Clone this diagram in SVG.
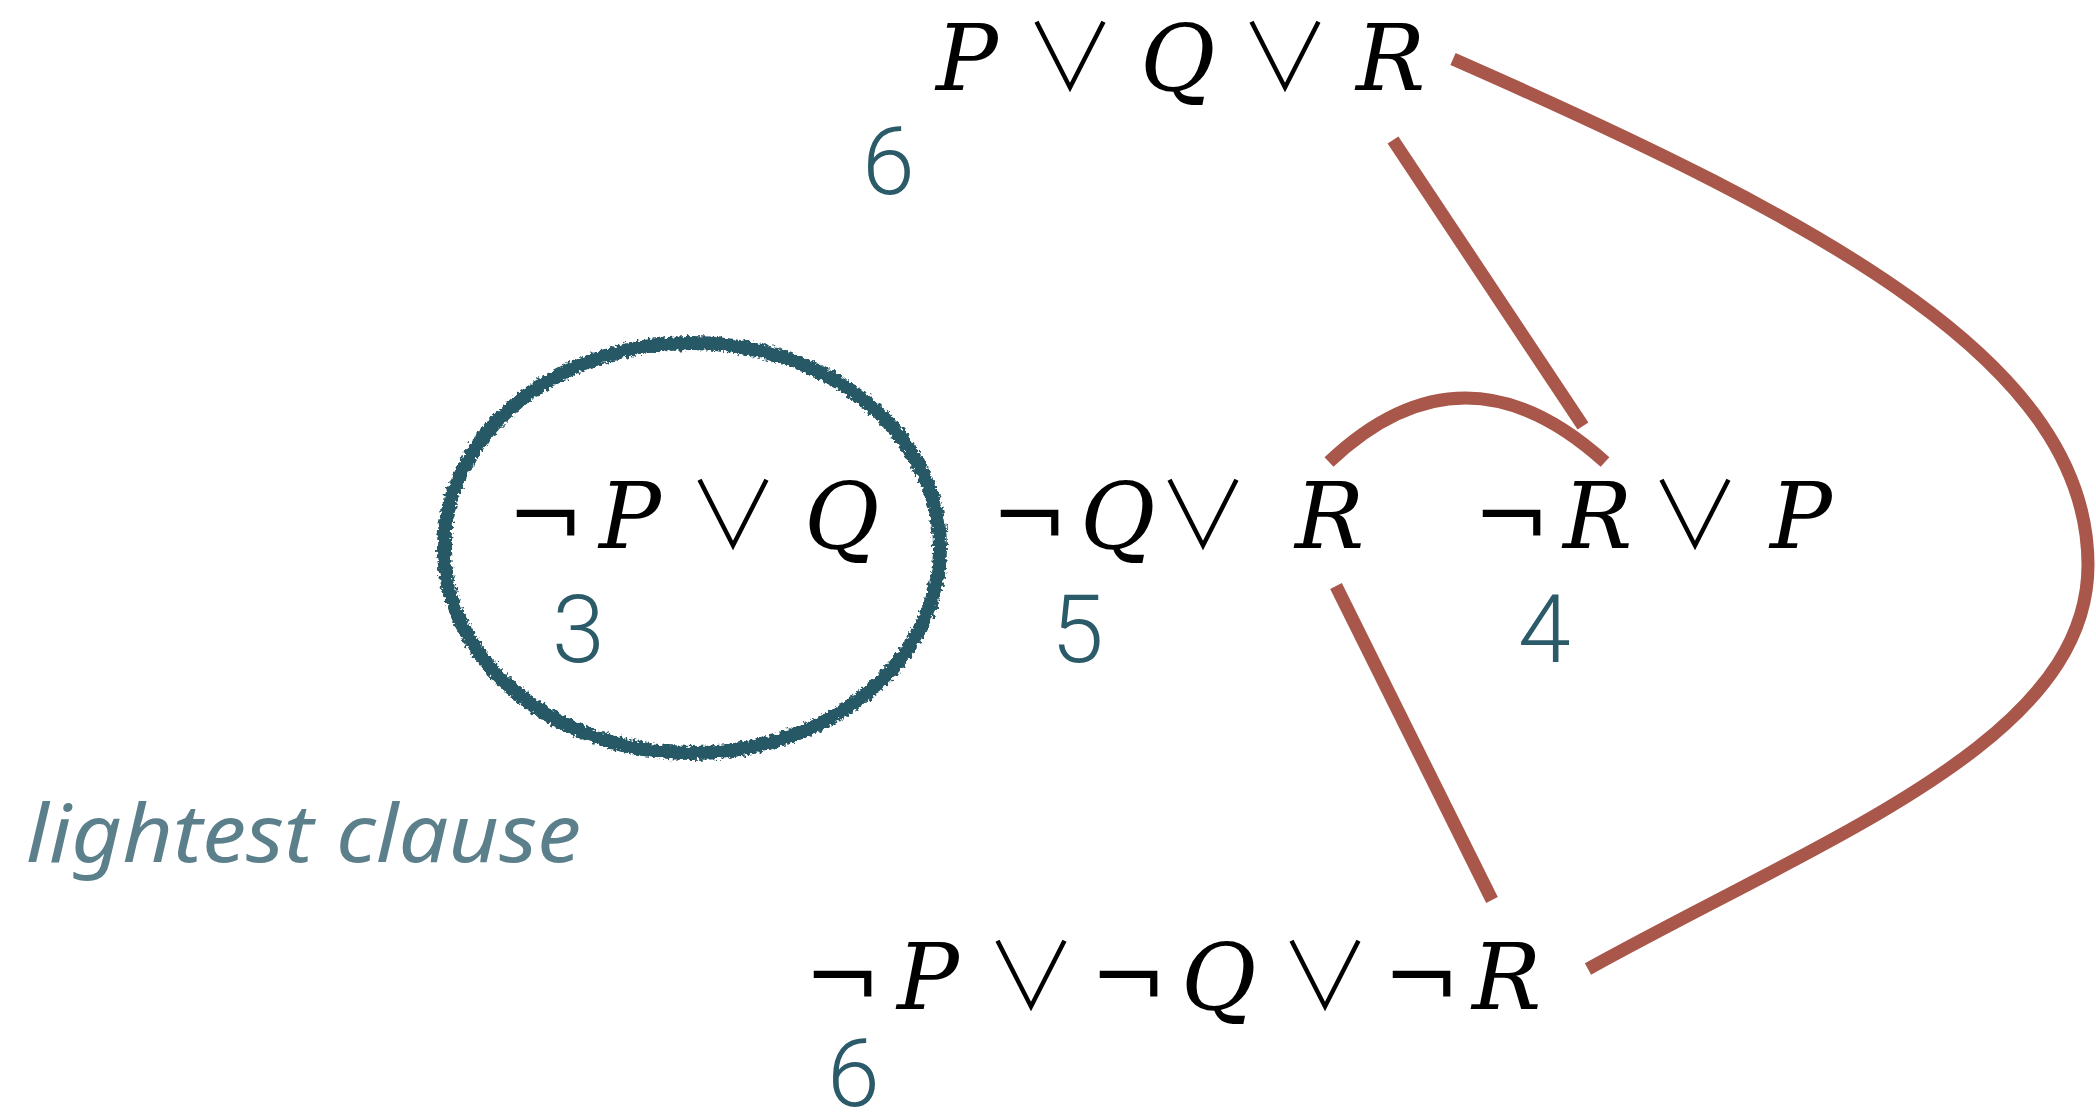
<svg xmlns="http://www.w3.org/2000/svg" width="2096" height="1117" viewBox="0 0 2096 1117">
<style>
.f{font-family:"DejaVu Serif",serif;font-size:92px;fill:#000}
.i{font-style:italic}
.o{font-family:"Noto Sans CJK JP","Noto Sans CJK SC","DejaVu Sans",sans-serif;font-weight:300;font-size:92px;fill:#000;text-anchor:middle}
.n{font-family:Roboto,"Liberation Sans",sans-serif;font-weight:300;font-size:95px;fill:#2b5b69}
.e{fill:none;stroke:#a8574a;stroke-width:13;stroke-linecap:butt}
.h{font-family:"Noto Sans","DejaVu Sans",sans-serif;font-style:italic;font-size:80px;fill:#5b808b}
</style>
<defs>
<filter id="rough" x="-10%" y="-10%" width="120%" height="120%">
<feTurbulence type="fractalNoise" baseFrequency="0.3" numOctaves="2" seed="3" result="t"/>
<feDisplacementMap in="SourceGraphic" in2="t" scale="8" xChannelSelector="R" yChannelSelector="G"/>
</filter>
</defs>
<rect width="2096" height="1117" fill="#fff"/>
<g id="connectors">
<line class="e" x1="1393" y1="140" x2="1583" y2="426"/>
<path class="e" d="M1329,462 Q1464,334 1605,462"/>
<line class="e" x1="1336" y1="586" x2="1492" y2="900"/>
<path class="e" d="M1453,59 C1833,226 2088,365 2088,565 C2088,740 1830,835 1588,969"/>
</g>
<g id="n1">
<text class="f i" y="90"><tspan x="936">P</tspan><tspan x="1140">Q</tspan><tspan x="1356">R</tspan></text>
<text class="o" y="90"><tspan x="1070">∨</tspan><tspan x="1285">∨</tspan></text>
<text class="n" x="862" y="194">6</text>
</g>
<g id="n2">
<ellipse cx="692" cy="548" rx="248" ry="205" fill="none" stroke="#285866" stroke-width="14" filter="url(#rough)"/>
<text class="f" y="548"><tspan x="507">¬</tspan><tspan class="i" x="599">P</tspan><tspan class="i" x="804">Q</tspan></text>
<text class="o" x="733" y="548">∨</text>
<text class="n" x="552" y="662">3</text>
</g>
<g id="n3">
<text class="f" y="548"><tspan x="991">¬</tspan><tspan class="i" x="1080">Q</tspan><tspan class="i" x="1295">R</tspan></text>
<text class="o" x="1203" y="548">∨</text>
<text class="n" x="1051" y="662">5</text>
</g>
<g id="n4">
<text class="f" y="548"><tspan x="1473">¬</tspan><tspan class="i" x="1563">R</tspan><tspan class="i" x="1770">P</tspan></text>
<text class="o" x="1695" y="548">∨</text>
<text class="n" x="1518" y="662">4</text>
</g>
<g id="n5">
<text class="f" y="1009"><tspan x="804">¬</tspan><tspan class="i" x="897">P</tspan><tspan x="1090">¬</tspan><tspan class="i" x="1181">Q</tspan><tspan x="1383">¬</tspan><tspan class="i" x="1472">R</tspan></text>
<text class="o" y="1009"><tspan x="1031">∨</tspan><tspan x="1325">∨</tspan></text>
<text class="n" x="827" y="1106">6</text>
</g>
<g id="label">
<text class="h" x="26" y="862" textLength="555" lengthAdjust="spacingAndGlyphs">lightest clause</text>
</g>
</svg>
